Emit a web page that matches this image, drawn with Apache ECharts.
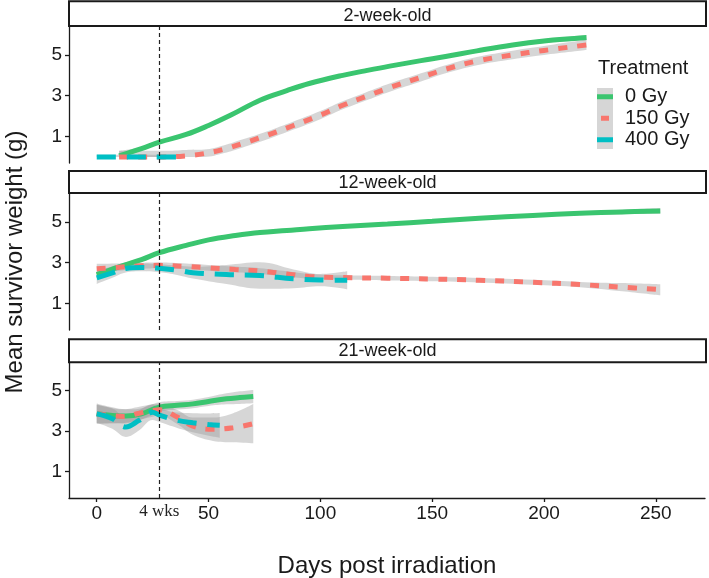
<!DOCTYPE html>
<html>
<head>
<meta charset="utf-8">
<script src="https://cdn.jsdelivr.net/npm/echarts@6/dist/echarts.min.js"></script>
<style>
    html, body { margin: 0; padding: 0; background: #fff; }
    #chart { width: 709px; height: 578px; }
</style>
</head>
<body>
<div id="chart"></div>
<script>
var panelNames = ['2-week-old', '12-week-old', '21-week-old'];
var treatments = ['0 Gy', '150 Gy', '400 Gy'];
var xTicks = [0, 50, 100, 150, 200, 250];
var yTicks = [1, 3, 5];
var weekMark = 28;
var weekLabel = '4 wks';

// rows: [day, fitted mean, lower CI, upper CI]
var w2_0gy = [[10, 0.05, -0.1, 0.2], [20, 0.4, 0.31, 0.49], [28, 0.72, 0.64, 0.8], [40, 1.1, 1.02, 1.18], [50, 1.54, 1.46, 1.62],
    [60, 2.05, 1.97, 2.13], [73, 2.78, 2.7, 2.86], [85, 3.25, 3.17, 3.33], [95, 3.6, 3.52, 3.68], [110, 4.0, 3.92, 4.08],
    [120, 4.22, 4.14, 4.3], [131, 4.45, 4.37, 4.53], [145, 4.72, 4.64, 4.8], [156, 4.92, 4.84, 5.0], [170, 5.2, 5.12, 5.28],
    [186, 5.49, 5.4, 5.58], [200, 5.68, 5.58, 5.78], [219, 5.85, 5.72, 5.98]];
var w2_150gy = [[10, 0.0, -0.15, 0.15], [20, 0.0, -0.15, 0.15], [30, 0.0, -0.15, 0.15], [40, 0.05, -0.12, 0.22], [48, 0.16, -0.02, 0.34],
    [57, 0.38, 0.19, 0.57], [65, 0.65, 0.45, 0.85], [76, 1.05, 0.85, 1.25], [88, 1.54, 1.34, 1.74], [100, 2.05, 1.85, 2.25],
    [110, 2.53, 2.33, 2.73], [120, 2.95, 2.75, 3.15], [131, 3.4, 3.2, 3.6], [145, 3.9, 3.7, 4.1], [156, 4.3, 4.1, 4.5],
    [170, 4.7, 4.5, 4.9], [186, 5.0, 4.79, 5.21], [200, 5.22, 5.0, 5.44], [219, 5.49, 5.24, 5.74]];
var w2_400gy = [[0, 0, -0.05, 0.05], [10, 0, -0.05, 0.05], [20, 0, -0.05, 0.05], [30, 0, -0.05, 0.05], [37, 0, -0.05, 0.05]];

var w12_0gy = [[0, 2.42, 2.25, 2.59], [10, 2.8, 2.68, 2.92], [20, 3.15, 3.05, 3.25], [28, 3.49, 3.41, 3.57], [40, 3.85, 3.77, 3.93],
    [50, 4.12, 4.05, 4.19], [62, 4.33, 4.26, 4.4], [73, 4.48, 4.41, 4.55], [85, 4.58, 4.51, 4.65], [95, 4.67, 4.6, 4.74],
    [110, 4.78, 4.71, 4.85], [130, 4.9, 4.83, 4.97], [150, 5.03, 4.96, 5.1], [171, 5.18, 5.11, 5.25], [195, 5.32, 5.24, 5.4],
    [216, 5.42, 5.33, 5.51], [235, 5.49, 5.38, 5.6], [252, 5.54, 5.4, 5.68]];
var w12_150gy = [[0, 2.7, 2.45, 2.95], [10, 2.78, 2.6, 2.96], [20, 2.85, 2.7, 3.0], [28, 2.87, 2.73, 3.01], [40, 2.82, 2.68, 2.96],
    [50, 2.75, 2.61, 2.89], [62, 2.67, 2.53, 2.81], [73, 2.59, 2.45, 2.73], [85, 2.45, 2.32, 2.58], [95, 2.33, 2.21, 2.45],
    [110, 2.27, 2.16, 2.38], [130, 2.24, 2.13, 2.35], [150, 2.2, 2.09, 2.31], [171, 2.14, 2.03, 2.25], [195, 2.04, 1.92, 2.16],
    [216, 1.93, 1.8, 2.06], [235, 1.8, 1.6, 2.0], [252, 1.68, 1.4, 1.94]];
var w12_400gy = [[0, 2.26, 1.96, 2.56], [7, 2.5, 2.26, 2.74], [13, 2.72, 2.52, 2.92], [20, 2.77, 2.58, 2.96], [28, 2.73, 2.53, 2.93],
    [36, 2.63, 2.4, 2.86], [43, 2.51, 2.22, 2.8], [58, 2.42, 1.95, 2.89], [73, 2.37, 1.72, 3.02], [88, 2.21, 1.75, 2.67],
    [100, 2.15, 1.85, 2.45], [112, 2.14, 1.7, 2.58]];

var w21_0gy = [[0, 3.86, 3.35, 4.37], [7, 3.78, 3.38, 4.18], [13, 3.75, 3.42, 4.08], [20, 3.86, 3.58, 4.14], [28, 4.19, 3.95, 4.43],
    [36, 4.28, 4.07, 4.49], [43, 4.35, 4.14, 4.56], [50, 4.47, 4.25, 4.69], [58, 4.6, 4.33, 4.87], [64, 4.66, 4.35, 4.97],
    [70, 4.71, 4.38, 5.04]];
var w21_150gy = [[0, 3.86, 3.4, 4.32], [6, 3.78, 3.4, 4.16], [12, 3.73, 3.38, 4.08], [19, 3.89, 3.57, 4.21], [25, 4.02, 3.72, 4.32],
    [28, 4.06, 3.76, 4.36], [36, 3.7, 3.35, 4.05], [43, 3.25, 2.82, 3.68], [52, 3.1, 2.52, 3.68], [61, 3.17, 2.45, 3.89],
    [70, 3.37, 2.4, 4.34]];
var w21_400gy = [[0, 3.86, 3.42, 4.3], [7, 3.62, 3.12, 4.12], [13, 3.21, 2.72, 3.7], [19, 3.54, 3.05, 4.03], [25, 3.94, 3.55, 4.33],
    [28, 3.8, 3.45, 4.15], [36, 3.54, 3.16, 3.92], [43, 3.42, 2.95, 3.89], [50, 3.33, 2.78, 3.88], [55, 3.29, 2.68, 3.9]];

var panelData = [
    [w2_0gy, w2_150gy, w2_400gy],
    [w12_0gy, w12_150gy, w12_400gy],
    [w21_0gy, w21_150gy, w21_400gy]
];

var colors = ['#3ac56f', '#f8766d', '#00bfc4'];
var dashes = ['solid', [9, 10], [19, 11]];
var ribbon = 'rgba(153,153,153,0.4)';
var keyGray = '#d6d6d6';
var ink = '#1a1a1a';
var font = 'Liberation Sans';

var gridTop = [27, 194, 363];
var gridH = [136, 136, 135];
var stripY = [[1.3, 24.7, 16], [171, 22, 183.5], [339.3, 23, 351.5]];

var grids = [], xAxes = [], yAxes = [], series = [], graphics = [];

panelData.forEach(function (rows, p) {
    var last = p === 2;
    grids.push({left: 69, width: 636, top: gridTop[p], height: gridH[p], outerBoundsMode: 'none'});
    xAxes.push({
        type: 'value', gridIndex: p, min: -12.4, max: 272,
        splitLine: {show: false},
        axisLine: {show: last, onZero: false, lineStyle: {color: ink, width: 1.3}},
        axisTick: {show: last, length: 4, customValues: xTicks, lineStyle: {color: ink, width: 1.3}},
        axisLabel: {show: last, customValues: xTicks, margin: 6, fontSize: 19, fontFamily: font, color: ink},
        name: last ? 'Days post irradiation' : '',
        nameLocation: 'middle', nameGap: 56,
        nameTextStyle: {fontSize: 24, fontFamily: font, color: ink}
    });
    yAxes.push({
        type: 'value', gridIndex: p, min: -0.3, max: 6.37,
        splitLine: {show: false},
        axisLine: {show: true, onZero: false, lineStyle: {color: ink, width: 1.3}},
        axisTick: {show: true, length: 4, customValues: yTicks, lineStyle: {color: ink, width: 1.3}},
        axisLabel: {customValues: yTicks, margin: 7, fontSize: 19, fontFamily: font, color: ink},
        name: p === 1 ? 'Mean survivor weight (g)' : '',
        nameLocation: 'middle', nameGap: 42,
        nameTextStyle: {fontSize: 24, fontFamily: font, color: ink}
    });

    rows.forEach(function (d, t) {
        // ribbon: lower edge + (upper - lower) stacked on y; y comes first in each pair so the y dim is stacked
        var stack = 'ci' + p + '_' + t;
        series.push({
            type: 'line', xAxisIndex: p, yAxisIndex: p, stack: stack, smooth: 0.4, silent: true,
            symbol: 'none', lineStyle: {opacity: 0}, encode: {x: 1, y: 0},
            data: d.map(function (r) { return [r[2], r[0]]; })
        });
        series.push({
            type: 'line', xAxisIndex: p, yAxisIndex: p, stack: stack, smooth: 0.4, silent: true,
            symbol: 'none', lineStyle: {opacity: 0}, encode: {x: 1, y: 0},
            areaStyle: {color: ribbon, opacity: 1},
            data: d.map(function (r) { return [r[3] - r[2], r[0]]; })
        });
        var s = {
            name: treatments[t], type: 'line', xAxisIndex: p, yAxisIndex: p, smooth: 0.4,
            symbol: 'none', color: colors[t],
            lineStyle: {color: colors[t], width: 5, type: dashes[t]},
            data: d.map(function (r) { return [r[0], r[1]]; })
        };
        if (t === 2) {
            s.markLine = {
                silent: true, symbol: ['none', 'none'], animation: false,
                lineStyle: {color: '#222', width: 1.2, type: [4, 3]},
                label: last ? {
                    show: true, position: 'start', formatter: weekLabel, distance: 5,
                    fontFamily: 'Liberation Serif', fontSize: 17, color: '#222'
                } : {show: false},
                data: [{xAxis: weekMark}]
            };
        }
        series.push(s);
    });

    graphics.push({
        type: 'rect', shape: {x: 69, y: stripY[p][0], width: 637, height: stripY[p][1]},
        style: {fill: '#fff', stroke: ink, lineWidth: 2}
    });
    graphics.push({
        type: 'text',
        style: {text: panelNames[p], x: 387.5, y: stripY[p][2], align: 'center', verticalAlign: 'middle',
            fontSize: 18, fontFamily: font, fill: ink}
    });
});

// legend key background and title
graphics.push({type: 'rect', z: 0, shape: {x: 597, y: 88, width: 16, height: 61}, style: {fill: keyGray}});
graphics.push({
    type: 'text',
    style: {text: 'Treatment', x: 598, y: 68, verticalAlign: 'middle', fontSize: 20, fontFamily: font, fill: ink}
});

// short dash key for the dashed treatment
var dashKey = new echarts.graphic.LinearGradient(0, 0, 1, 0, [
    {offset: 0, color: keyGray}, {offset: 0.25, color: keyGray},
    {offset: 0.25, color: colors[1]}, {offset: 0.75, color: colors[1]},
    {offset: 0.75, color: keyGray}, {offset: 1, color: keyGray}
]);

var myChart = echarts.init(document.getElementById('chart'));
myChart.setOption({
    animation: false,
    backgroundColor: '#fff',
    grid: grids,
    xAxis: xAxes,
    yAxis: yAxes,
    legend: {
        left: 597, top: 86, orient: 'vertical', padding: 0,
        itemWidth: 16, itemHeight: 5, itemGap: 0, selectedMode: false,
        textStyle: {fontSize: 20, fontFamily: font, color: ink, lineHeight: 21.5, padding: [0, 0, 0, 7]},
        itemStyle: {borderWidth: 0},
        data: [
            {name: '0 Gy', icon: 'rect'},
            {name: '150 Gy', icon: 'rect', itemStyle: {color: dashKey, borderWidth: 0}},
            {name: '400 Gy', icon: 'rect'}
        ]
    },
    graphic: graphics,
    series: series
});
</script>
</body>
</html>
